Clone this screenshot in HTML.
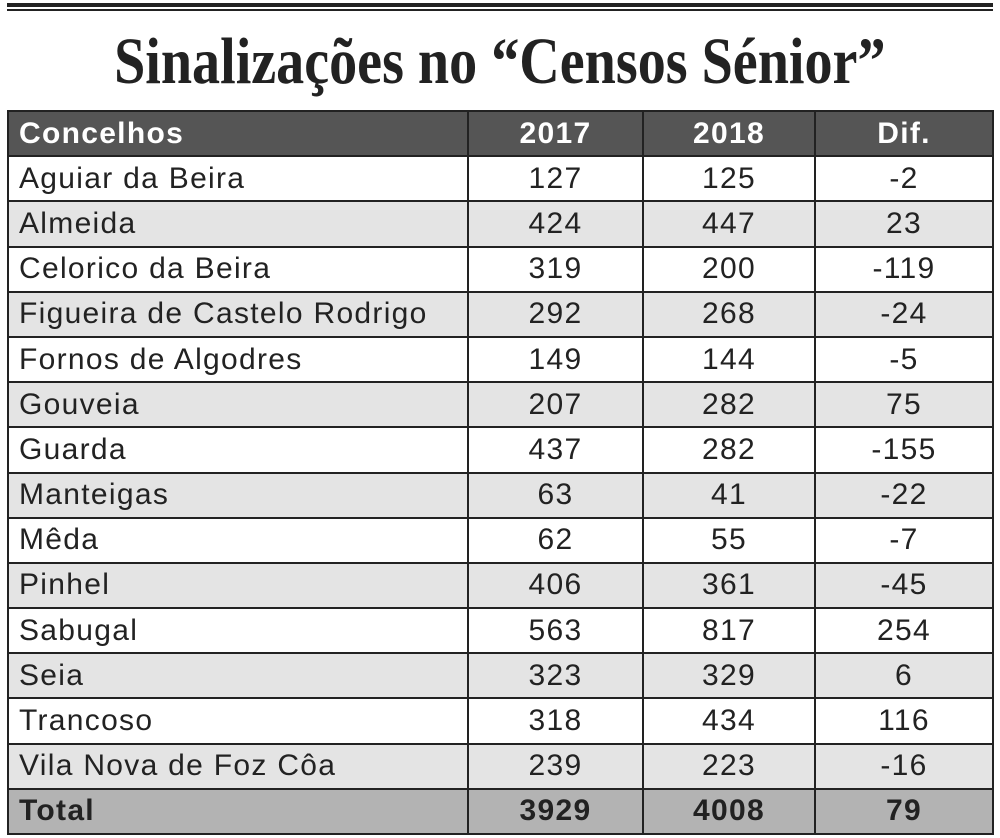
<!DOCTYPE html>
<html><head><meta charset="utf-8"><style>
body{margin:0;background:#fff;width:1000px;height:838px;overflow:hidden;position:relative;font-family:"Liberation Sans",Arial,sans-serif}
.l1{position:absolute;left:7px;width:986px;top:3px;height:4px;background:#222}
.l2{position:absolute;left:7px;width:986px;top:9px;height:2px;background:#222}
.title{position:absolute;left:0;width:1000px;top:24px;text-align:center;font-family:"Liberation Serif",serif;font-weight:bold;font-size:66px;color:#222;white-space:nowrap}
.title span{display:inline-block;transform:scaleX(0.85);transform-origin:center}
table{position:absolute;left:7px;top:110px;border-collapse:collapse;width:987px}
td{border:2px solid #222;height:43.2px;padding:0;font-size:30px;letter-spacing:1.3px;color:#222;text-align:center;line-height:1}
td:first-child{text-align:left;padding-left:10px;width:448px}
td:nth-child(2){width:173px}td:nth-child(3){width:170px}
tr.h td{background:#555;color:#fff;font-weight:bold}
tr:nth-child(odd):not(.h):not(.t) td{background:#e4e4e4}
tr.t td{background:#b3b3b3;font-weight:bold}
</style></head><body>
<div class="l1"></div><div class="l2"></div>
<div class="title"><span>Sinalizações no “Censos Sénior”</span></div>
<table>
<tr class="h"><td>Concelhos</td><td>2017</td><td>2018</td><td>Dif.</td></tr>
<tr><td>Aguiar da Beira</td><td>127</td><td>125</td><td>-2</td></tr>
<tr><td>Almeida</td><td>424</td><td>447</td><td>23</td></tr>
<tr><td>Celorico da Beira</td><td>319</td><td>200</td><td>-119</td></tr>
<tr><td>Figueira de Castelo Rodrigo</td><td>292</td><td>268</td><td>-24</td></tr>
<tr><td>Fornos de Algodres</td><td>149</td><td>144</td><td>-5</td></tr>
<tr><td>Gouveia</td><td>207</td><td>282</td><td>75</td></tr>
<tr><td>Guarda</td><td>437</td><td>282</td><td>-155</td></tr>
<tr><td>Manteigas</td><td>63</td><td>41</td><td>-22</td></tr>
<tr><td>Mêda</td><td>62</td><td>55</td><td>-7</td></tr>
<tr><td>Pinhel</td><td>406</td><td>361</td><td>-45</td></tr>
<tr><td>Sabugal</td><td>563</td><td>817</td><td>254</td></tr>
<tr><td>Seia</td><td>323</td><td>329</td><td>6</td></tr>
<tr><td>Trancoso</td><td>318</td><td>434</td><td>116</td></tr>
<tr><td>Vila Nova de Foz Côa</td><td>239</td><td>223</td><td>-16</td></tr>
<tr class="t"><td>Total</td><td>3929</td><td>4008</td><td>79</td></tr>
</table>
</body></html>
